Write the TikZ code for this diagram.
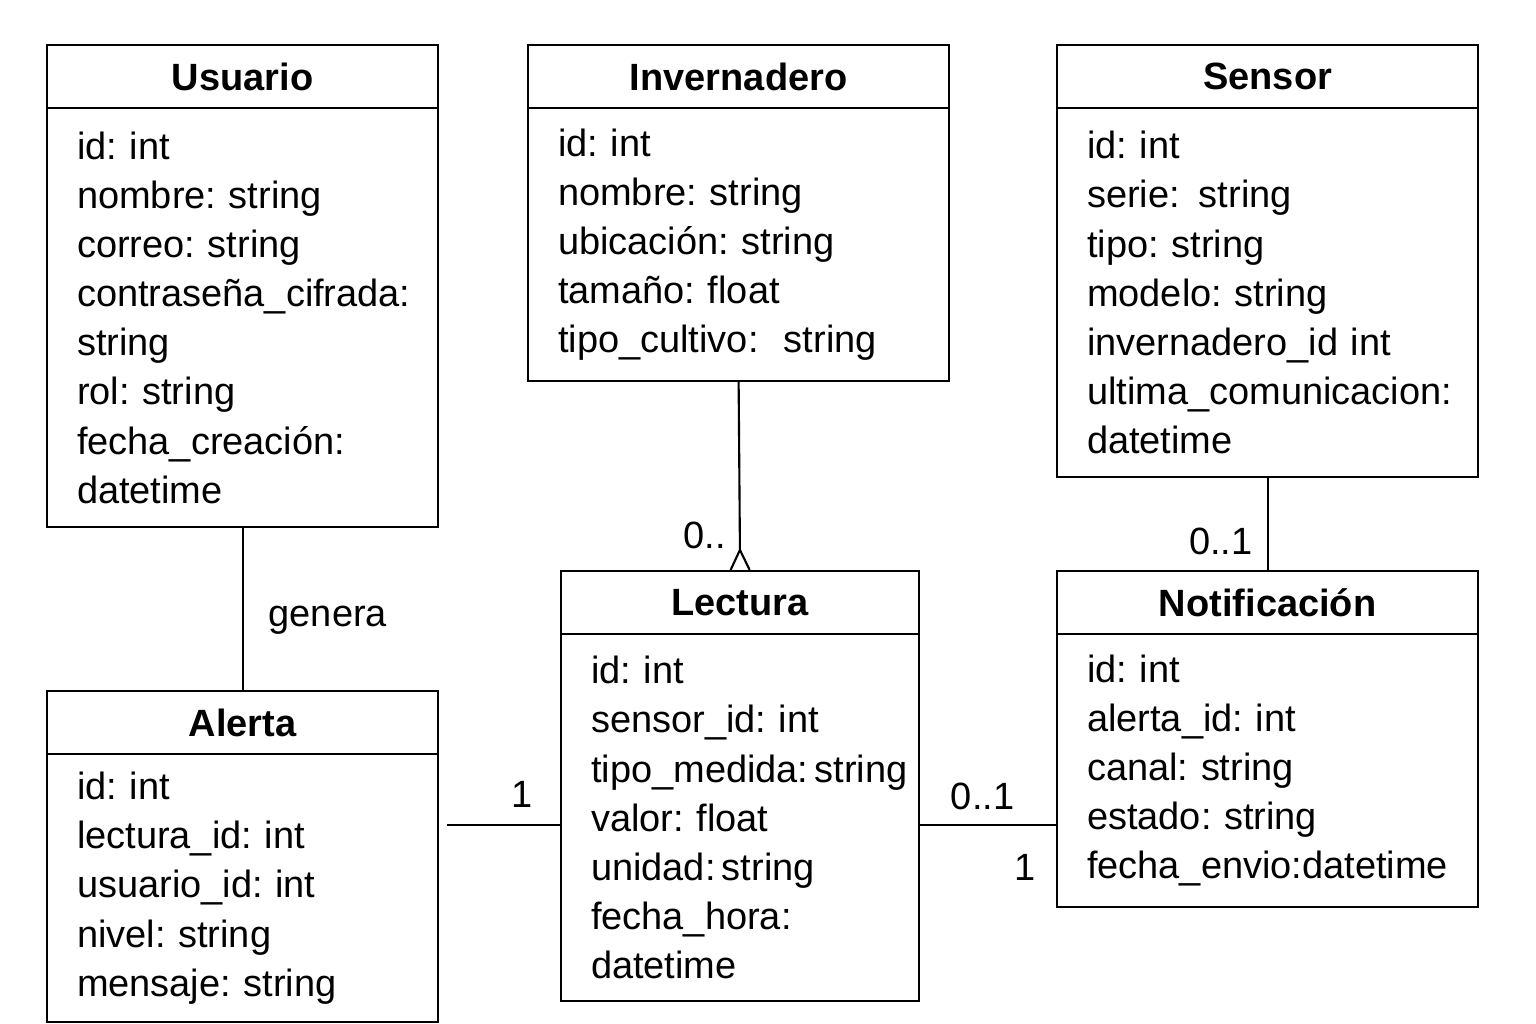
\documentclass[tikz,border=0pt]{standalone}
\usepackage{fontspec}
\setmainfont{Liberation Sans}
\usetikzlibrary{positioning, arrows.meta}
\frenchspacing

\begin{document}
\begin{tikzpicture}[x=0.01cm,y=-0.01cm,line width=0.6pt,font=\fontsize{10.8pt}{13.97pt}\selectfont]
	\tikzstyle{classhead} = [draw,font=\fontsize{10.8pt}{13.97pt}\selectfont\bfseries,minimum height=0.63cm,inner sep=0pt,outer sep=0pt,anchor=north west]
	\tikzstyle{classbody} = [draw,align=left,outer sep=0pt,inner xsep=0.3cm,inner ysep=0pt]
	\tikzstyle{mult} = [inner sep=0pt]
	\useasboundingbox (0,0) rectangle (1536,1024);
	% clases
	\node[classhead,minimum width=3.91cm]	(usuario)		at (47,45)		{Usuario};
	\node[classbody,text width=3.31cm,minimum height=4.19cm]	(usuario-attrs) [below=0pt of usuario]
		{id: int\\ nombre: string\\ correo: string\\ contraseña\_cifrada:\\ string\\ rol: string\\ fecha\_creación:\\ datetime};
	\node[classhead,minimum width=4.21cm]	(invernadero)	at (528,45)		{Invernadero};
	\node[classbody,text width=3.61cm,minimum height=2.73cm]	(invernadero-attrs) [below=0pt of invernadero]
		{id: int\\ nombre: string\\ ubicación: string\\ tamaño: float\\ tipo\_cultivo:\ \ string};
	\node[classhead,minimum width=4.21cm]	(sensor)		at (1057,45)	{Sensor};
	\node[classbody,text width=3.61cm,minimum height=3.69cm]	(sensor-attrs) [below=0pt of sensor]
		{id: int\\ serie:\ \,string\\ tipo: string\\ modelo: string\\ invernadero\_id int\\ ultima\_comunicacion:\\ datetime};
	\node[classhead,minimum width=3.58cm]	(lectura)		at (561,571)	{Lectura};
	\node[classbody,text width=2.98cm,minimum height=3.67cm]	(lectura-attrs) [below=0pt of lectura]
		{id: int\\ sensor\_id: int\\ tipo\_medida:\,string\\ valor: float\\ unidad:\,string\\ fecha\_hora:\\ datetime};
	\node[classhead,minimum width=4.21cm]	(notificacion)	at (1057,571)	{Notificación};
	\node[classbody,text width=3.61cm,minimum height=2.73cm]	(notificacion-attrs) [below=0pt of notificacion]
		{id: int\\ alerta\_id: int\\ canal: string\\ estado: string\\ fecha\_envio:datetime};
	\node[classhead,minimum width=3.91cm]	(alerta)		at (47,691)		{Alerta};
	\node[classbody,text width=3.31cm,minimum height=2.68cm]	(alerta-attrs) [below=0pt of alerta]
		{id: int\\ lectura\_id: int\\ usuario\_id: int\\ nivel: string\\ mensaje: string};
	% relaciones
	\path	(usuario-attrs.south) edge node[mult,pos=0.57,right=0.25cm] {genera} (alerta.north);
	\draw[-{Straight Barb[reversed,length=0.2cm,width=0.19cm]}]
			(invernadero-attrs.south) -- node[mult,pos=0.81,left=0.13cm] {0..} (lectura.north);
	\draw	(sensor-attrs.south) -- node[mult,pos=0.68,left=0.14cm] {0..1} (notificacion.north);
	\coordinate (alerta-end) at (447,825);
	\draw	(alerta-end) -- node[mult,pos=0.66,above=0.16cm] {1} (alerta-end -| lectura-attrs.west);
	\draw	(lectura-attrs.east |- alerta-end) -- node[mult,pos=0.46,above=0.14cm] {0..1}
			node[mult,pos=0.77,below=0.28cm] {1} (notificacion-attrs.west |- alerta-end);
\end{tikzpicture}
\end{document}
